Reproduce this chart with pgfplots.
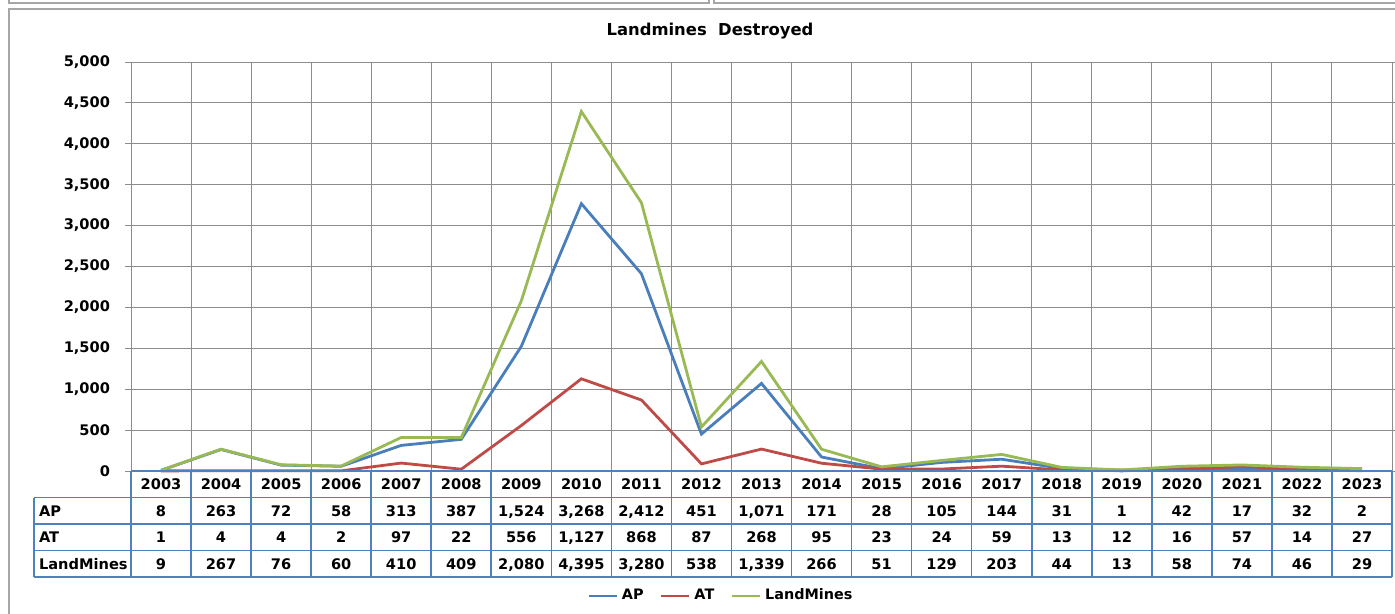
\documentclass[border=0pt]{standalone}
\usepackage{fontspec}
\setmainfont{DejaVu Sans}
\usepackage{pgfplots}
\usepackage{pgfplotstable}
\pgfplotsset{compat=1.18}
\definecolor{apblue}{HTML}{4A7EBB}
\definecolor{atred}{HTML}{BE4B48}
\definecolor{lmgreen}{HTML}{98B954}
\definecolor{tblblue}{HTML}{4F81BD}
\definecolor{gridgray}{HTML}{8C8C8C}
\pgfkeys{/pgf/number format/.cd, 1000 sep={,}, assume math mode=true}

% landmines destroyed per year
\pgfplotstableread{
year AP   AT   LM
2003 8    1    9
2004 263  4    267
2005 72   4    76
2006 58   2    60
2007 313  97   410
2008 387  22   409
2009 1524 556  2080
2010 3268 1127 4395
2011 2412 868  3280
2012 451  87   538
2013 1071 268  1339
2014 171  95   266
2015 28   23   51
2016 105  24   129
2017 144  59   203
2018 31   13   44
2019 1    12   13
2020 42   16   58
2021 17   57   74
2022 32   14   46
2023 2    27   29
}\mines

\newcommand\tfont{\fontsize{7.3}{8}\selectfont\bfseries}

\begin{document}
\begin{tikzpicture}
\useasboundingbox (0,0) rectangle (697.5pt,-307pt);

\begin{axis}[
  at={(65.5pt,-235.5pt)}, anchor=south west,
  scale only axis, width=630.5pt, height=204.5pt,
  xmin=2002.5, xmax=2023.5, ymin=0, ymax=5000,
  xtick={2002.5,2003.5,...,2023.5}, xticklabels={},
  ytick={0,500,...,5000},
  scaled y ticks=false,
  grid=major, grid style={gridgray, line width=0.5pt},
  axis line style={draw=none},
  xtick style={draw=none},
  ytick style={gridgray, line width=0.5pt},
  tick align=outside, major tick length=3pt,
  yticklabel style={font=\tfont, xshift=-4pt},
  clip=false,
  legend style={at={(0.4685,-0.3056)}, anchor=center, draw=none, fill=none,
    font=\fontsize{7.2}{8}\selectfont\bfseries, legend columns=-1,
    /tikz/every even column/.append style={column sep=6pt}},
  legend image code/.code={\draw[#1] (0pt,0pt) -- (14pt,0pt);},
]
\addplot[apblue, line width=1.4pt] table[x=year, y=AP] {\mines};
\addlegendentry{AP}
\addplot[atred, line width=1.4pt] table[x=year, y=AT] {\mines};
\addlegendentry{AT}
\addplot[lmgreen, line width=1.4pt] table[x=year, y=LM] {\mines};
\addlegendentry{LandMines}
\end{axis}

\begin{scope}[x=0.5pt, y=-0.5pt]
% frames of the sheet
\draw[gray!70, line width=0.6pt] (9,620) -- (9,9) -- (1400,9);
\draw[gray!70, line width=0.6pt] (9,-4) -- (9,3) -- (709,3) -- (709,-4);
\draw[gray!70, line width=0.6pt] (714,-4) -- (714,3) -- (1400,3);
% title
\node[font=\fontsize{8.2}{10}\selectfont\bfseries] at (710,31) {Landmines\ \ Destroyed};
% data table
\def\cw{60.048}
\draw[tblblue, line width=0.8pt] (131,471) -- (1392,471);
\foreach \yy in {497.5,524,550.5,577} \draw[tblblue, line width=0.8pt] (34,\yy) -- (1392,\yy);
\foreach \i in {0,...,21} \draw[tblblue, line width=0.8pt] ({131+\i*\cw},471) -- ({131+\i*\cw},577);
\draw[tblblue, line width=0.8pt] (34,497.5) -- (34,577);
\tikzset{cell/.style={font=\tfont, anchor=base}}
\node[cell, anchor=base west] at (32,516) {AP};
\node[cell, anchor=base west] at (32,542.5) {AT};
\node[cell, anchor=base west] at (32,569) {LandMines};
\foreach \i in {0,...,20}{
  \pgfplotstablegetelem{\i}{year}\of\mines \let\yr\pgfplotsretval
  \node[cell] at ({131+(\i+0.5)*\cw},489.5) {\yr};
  \pgfplotstablegetelem{\i}{AP}\of\mines \let\va\pgfplotsretval
  \node[cell] at ({131+(\i+0.5)*\cw},516) {\pgfmathprintnumber{\va}};
  \pgfplotstablegetelem{\i}{AT}\of\mines \let\vb\pgfplotsretval
  \node[cell] at ({131+(\i+0.5)*\cw},542.5) {\pgfmathprintnumber{\vb}};
  \pgfplotstablegetelem{\i}{LM}\of\mines \let\vc\pgfplotsretval
  \node[cell] at ({131+(\i+0.5)*\cw},569) {\pgfmathprintnumber{\vc}};
}
\end{scope}
\end{tikzpicture}
\end{document}
